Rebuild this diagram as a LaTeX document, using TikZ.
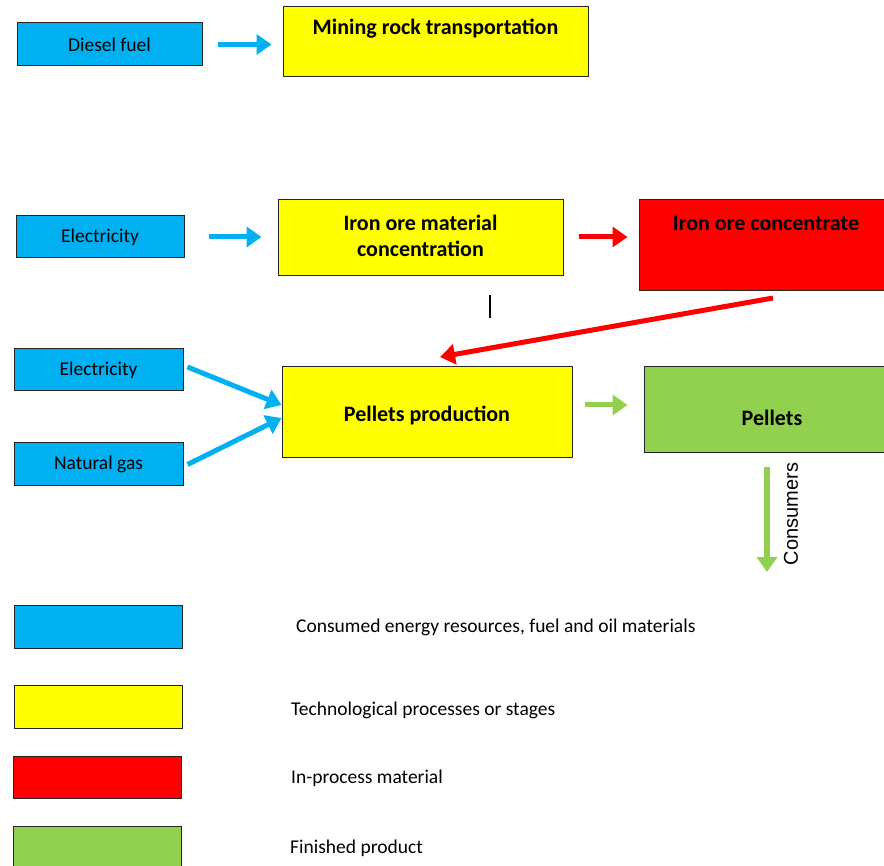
\documentclass[tikz,border=0pt]{standalone}
\usepackage{fontspec}
\setmainfont{Carlito}
\newfontfamily\arialfont{Liberation Sans}
\usetikzlibrary{arrows.meta}
\definecolor{cblue}{HTML}{00B0F0}
\definecolor{cyellow}{HTML}{FFFF00}
\definecolor{cred}{HTML}{FF0000}
\definecolor{cgreen}{HTML}{92D050}
\begin{document}
\begin{tikzpicture}[x=1pt,y=-1pt,
  box/.style={draw=black!85, line width=1pt, inner sep=0pt, font=\fontsize{19.5}{22}\selectfont},
  bbox/.style={box, font=\fontsize{22}{26}\selectfont\bfseries},
  btext/.style={inner sep=0pt, align=center, font=\fontsize{22}{26}\selectfont\bfseries},
  arr/.style={line width=5pt, -{Triangle[length=15pt,width=20pt]}},
  barr/.style={arr, draw=cblue},
  rarr/.style={arr, draw=cred},
  garr/.style={arr, draw=cgreen},
  legtext/.style={anchor=west, inner sep=0pt, font=\fontsize{19.5}{22}\selectfont}
]
\path[fill=white] (0,0) rectangle (884,866);
\useasboundingbox (0,0) rectangle (884,866);

% row 1
\node[box, fill=cblue, minimum width=185pt, minimum height=43pt] (diesel) at (109.5,44.5) {Diesel fuel};
\node[bbox, fill=cyellow, minimum width=305pt, minimum height=70pt] (mining) at (435.5,42) {};
\node[btext] (miningt) at (435.5,29) {Mining rock transportation};
\draw[barr] ([xshift=15pt]diesel.east) -- ([xshift=-11pt]mining.west |- diesel.east);

% row 2
\node[box, fill=cblue, minimum width=168pt, minimum height=42pt] (elec1) at (100,237) {Electricity};
\node[bbox, fill=cyellow, minimum width=285pt, minimum height=76pt] (iron) at (420.5,238) {};
\node[btext] (iront) at (420.5,236) {Iron ore material\\concentration};
\node[bbox, fill=cred, minimum width=247pt, minimum height=91pt] (conc) at (762.5,245.5) {};
\node[btext] (conct) at (766,223) {Iron ore concentrate};
\draw[barr] ([xshift=24pt]elec1.east) -- ([xshift=-16pt]iron.west |- elec1.east);
\draw[rarr] ([xshift=15pt]iron.east |- 0,237) -- ([xshift=-11pt]conc.west |- 0,237);

% small bar
\draw[line width=2pt] (490,295) -- (490,318);

% row 3
\node[box, fill=cblue, minimum width=169pt, minimum height=42pt] (elec2) at (98.5,370) {Electricity};
\node[box, fill=cblue, minimum width=169pt, minimum height=43pt] (gas) at (98.5,464.5) {Natural gas};
\node[bbox, fill=cyellow, minimum width=290pt, minimum height=91pt] (pellprod) at (427,412.5) {};
\node[btext] (pellprodt) at (427,415) {Pellets production};
\node[bbox, fill=cgreen, minimum width=242pt, minimum height=86pt] (pellets) at (765,410) {};
\node[btext] (pelletst) at (772,418) {Pellets};

\coordinate (rs) at (773,298);
\coordinate (re) at (440,357);
\draw[rarr] (rs) -- (re);
\draw[barr] ([xshift=4pt,yshift=3pt]elec2.east) -- (pellprod.west |- 0,405);
\draw[barr] ([xshift=4pt]gas.east) -- (pellprod.west |- 0,418);
\draw[garr] ([xshift=12pt]pellprod.east |- 0,405) -- ([xshift=-16pt]pellets.west |- 0,405);

\coordinate (cons) at (767,572);
\draw[garr, line width=5.5pt] (767,467) -- (cons);
\node[rotate=90, inner sep=0pt, font=\arialfont\fontsize{20}{22}\selectfont] (ctext) at (791,514) {Consumers};

% legend
\node[box, fill=cblue, minimum width=168pt, minimum height=43pt] (lb) at (98,626.5) {};
\node[box, fill=cyellow, minimum width=168pt, minimum height=43pt] (ly) at (98,706.5) {};
\node[box, fill=cred, minimum width=168pt, minimum height=42pt] (lr) at (97,777) {};
\node[box, fill=cgreen, minimum width=168pt, minimum height=44pt] (lg) at (97,848) {};
\node[legtext] (lbt) at (296,627) {Consumed energy resources, fuel and oil materials};
\node[legtext] (lyt) at (291,710) {Technological processes or stages};
\node[legtext] (lrt) at (291,778) {In-process material};
\node[legtext] (lgt) at (290,848) {Finished product};
\end{tikzpicture}
\end{document}
